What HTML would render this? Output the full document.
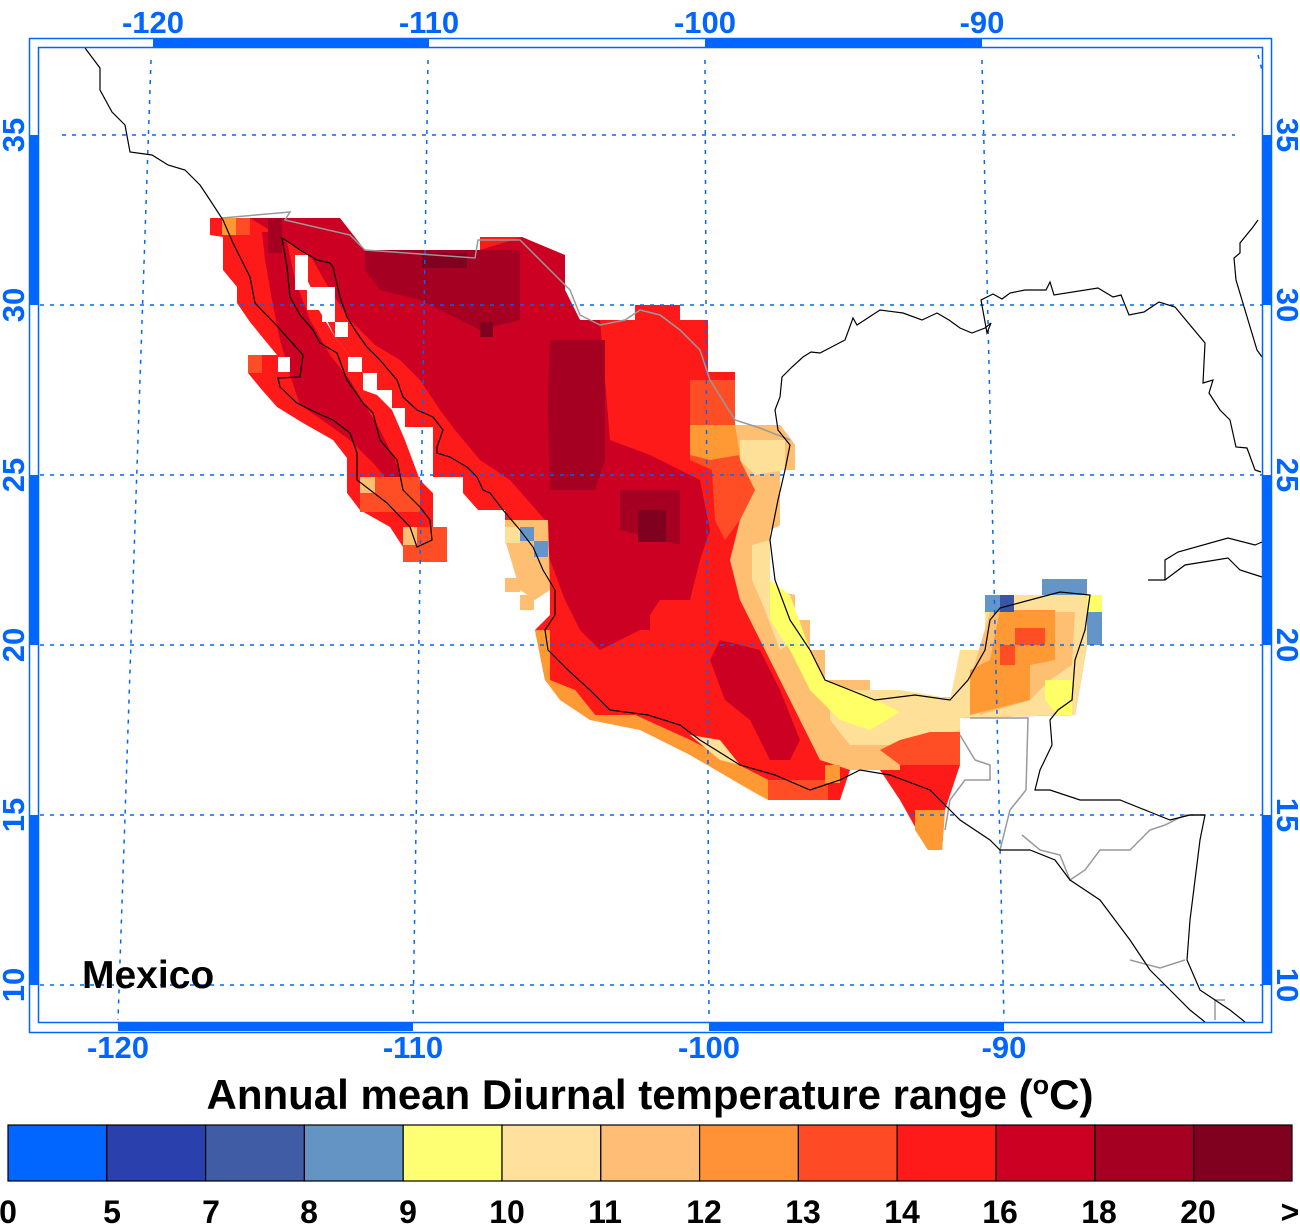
<!DOCTYPE html>
<html><head><meta charset="utf-8"><style>
html,body{margin:0;padding:0;background:#fff;}
svg{display:block;font-family:"Liberation Sans",sans-serif;}
</style></head><body>
<svg width="1300" height="1232" viewBox="0 0 1300 1232" xmlns="http://www.w3.org/2000/svg">
<g stroke="none">
<!-- mainland -->
<polygon fill="#ff1a1a" points="210,218 340,218 340,235 365,250 480,250 480,237 522,237 522,255 565,255 565,290 580,320 635,320 635,305 680,305 680,320 708,320 708,372 735,372 735,425 780,425 795,445 795,470 780,470 780,525 770,530 770,590 795,595 795,620 810,620 810,650 825,650 825,680 870,680 870,697 960,697 970,650 985,650 985,595 1087,595 1087,645 1075,715 960,718 960,765 945,810 942,850 928,850 900,800 880,770 850,770 840,800 768,800 768,780 690,740 635,715 595,715 575,690 545,680 535,630 550,615 550,590 520,555 505,540 505,510 478,510 463,493 433,477 405,427 363,373 335,337 295,255"/>
<!-- baja -->
<polygon fill="#ff1a1a" points="210,218 290,218 295,255 307,290 335,337 363,373 377,390 392,408 405,440 420,480 433,493 433,527 447,527 447,543 432,543 432,562 403,562 403,547 390,527 360,510 347,493 347,458 333,440 303,423 277,407 262,390 248,373 248,355 277,355 263,338 250,322 237,303 237,287 223,270 223,237 210,235"/>
<polygon fill="#cc0022" points="250,218 340,218 365,250 480,250 522,237 565,255 565,290 580,320 600,320 610,440 650,455 700,480 710,530 700,560 690,600 660,600 640,630 600,650 580,630 565,600 550,560 545,520 510,480 480,460 455,430 440,410 420,380 400,360 375,345 350,320 330,290 310,255"/>
<polygon fill="#cc0022" points="262,232 285,232 295,280 310,320 330,355 350,380 365,405 380,430 395,460 405,490 395,490 375,465 350,440 325,422 300,405 290,375 280,340 272,300 265,260"/>
<polygon fill="#cc0022" points="720,640 760,650 780,690 800,740 790,760 770,760 750,720 725,700 710,660"/>
<polygon fill="#cc0022" points="608,600 650,600 650,630 608,630"/>
<polygon fill="#a50021" points="365,250 520,250 520,320 480,330 420,300 380,290 365,270"/>
<polygon fill="#a50021" points="550,340 605,340 605,460 595,490 550,490 548,400"/>
<polygon fill="#a50021" points="620,490 680,490 680,545 620,530"/>
<polygon fill="#a50021" points="268,218 282,218 282,253 268,253"/>
<rect fill="#800020" x="638" y="510" width="28" height="32"/>
<rect fill="#800020" x="480" y="322" width="13" height="15"/>
<rect fill="#800020" x="422" y="253" width="45" height="15"/>
<!-- gulf of california whites -->
<g fill="#fff">
<polygon points="363,373 377,373 377,390 392,390 392,408 405,408 405,427 433,427 433,477 463,477 463,493 433,493 420,480 405,440 392,410 377,395 363,390"/>
<rect x="295" y="255" width="13" height="35"/><rect x="307" y="287" width="28" height="23"/><rect x="322" y="310" width="13" height="12"/><rect x="335" y="322" width="13" height="15"/>
<rect x="278" y="357" width="12" height="15"/><rect x="348" y="357" width="14" height="15"/>
</g>
<rect fill="#ff4d26" x="248" y="355" width="14" height="18"/>
<!-- gulf coast bands -->
<polygon fill="#ff4d26" points="690,380 735,380 735,425 765,470 740,520 725,540 715,520 712,470 690,460"/>
<polygon fill="#ffbf73" points="735,425 780,425 795,445 795,470 780,470 780,525 770,530 770,590 795,595 795,620 810,620 810,650 825,650 825,680 870,680 870,697 960,697 960,740 930,740 900,770 880,770 850,770 820,760 800,720 780,680 760,640 740,600 730,560 740,520 755,490 740,460"/>
<polygon fill="#ff9933" points="690,425 735,425 740,455 710,460 690,455"/>
<polygon fill="#ffe099" points="740,440 785,440 785,470 755,475 740,460"/>
<polygon fill="#ffe099" points="752,545 770,540 770,590 790,600 795,640 780,650 765,610 752,580"/>
<polygon fill="#ffe099" points="830,690 900,690 960,700 960,730 900,745 850,745 830,720"/>
<polygon fill="#ffff66" points="770,580 790,595 810,650 825,680 870,697 900,712 870,730 840,720 810,690 790,650 770,620"/>
<!-- yucatan -->
<polygon fill="#ffe099" points="960,650 985,650 985,595 1087,595 1087,645 1075,715 960,718 950,700"/>
<polygon fill="#ffbf73" points="990,612 1075,612 1072,665 1050,680 1030,700 980,715 970,680"/>
<polygon fill="#ff9933" points="1000,610 1055,610 1055,660 1030,665 1030,700 970,715 970,670 990,660"/>
<rect fill="#ff4d26" x="1015" y="628" width="30" height="17"/><rect fill="#ff4d26" x="1000" y="645" width="15" height="20"/>
<polygon fill="#ffff66" points="1045,680 1072,680 1072,715 1058,715 1045,700"/>
<rect fill="#ffff66" x="1087" y="595" width="15" height="17"/>
<rect fill="#6495c8" x="1042" y="579" width="45" height="16"/>
<rect fill="#6495c8" x="985" y="595" width="15" height="17"/>
<rect fill="#3a55a8" x="1000" y="595" width="14" height="17"/>
<rect fill="#6495c8" x="1087" y="612" width="15" height="33"/>
<!-- chiapas -->
<polygon fill="#ff4d26" points="930,732 960,732 960,765 900,765 880,750 900,740"/>
<polygon fill="#ff1a1a" points="900,765 945,765 945,810 930,810 915,795 900,785"/>
<polygon fill="#ff9933" points="915,810 945,810 942,850 928,850 915,830"/>
<!-- pacific coast -->
<polygon fill="#ff9933" points="535,630 550,630 550,680 575,690 595,715 635,715 690,740 768,780 768,800 750,790 690,755 640,730 590,720 560,700 545,680"/>
<polygon fill="#ffe099" points="690,735 720,740 740,765 720,760"/>
<polygon fill="#ffbf73" points="505,520 548,520 550,590 535,600 520,590 505,540"/>
<rect fill="#ffe099" x="505" y="527" width="15" height="16"/>
<rect fill="#6495c8" x="520" y="527" width="14" height="14"/><rect fill="#6495c8" x="534" y="541" width="14" height="16"/>
<rect fill="#ffbf73" x="505" y="578" width="15" height="14"/><rect fill="#ffbf73" x="520" y="595" width="14" height="15"/>
<rect fill="#ff4d26" x="768" y="780" width="60" height="20"/>
<rect fill="#ff9933" x="825" y="765" width="15" height="18"/>
<rect fill="#ff4d26" x="360" y="477" width="60" height="35"/>
<rect fill="#ffbf73" x="360" y="477" width="15" height="16"/>
<rect fill="#ff4d26" x="403" y="527" width="44" height="35"/>
<rect fill="#ffbf73" x="403" y="527" width="14" height="18"/>
<rect fill="#ff9933" x="222" y="218" width="14" height="17"/>
<rect fill="#ff4d26" x="236" y="218" width="14" height="17"/>
</g>
<!-- grid -->
<g stroke="#0066ff" stroke-width="1.5" stroke-dasharray="4,6" fill="none">
<line x1="62" y1="135" x2="1235" y2="135"/>
<line x1="40" y1="305" x2="1262" y2="305"/>
<line x1="40" y1="475" x2="1262" y2="475"/>
<line x1="40" y1="645" x2="1262" y2="645"/>
<line x1="40" y1="815" x2="1262" y2="815"/>
<line x1="40" y1="985" x2="1262" y2="985"/>
<line x1="151" y1="60" x2="118" y2="1020"/>
<line x1="428" y1="60" x2="413" y2="1020"/>
<line x1="705" y1="60" x2="709" y2="1020"/>
<line x1="982" y1="60" x2="1004" y2="1020"/>
<line x1="1258" y1="55" x2="1262" y2="70"/>
</g>
<!-- borders -->
<g fill="none" stroke="#999" stroke-width="1.5">
<polyline points="222,218 290,212 285,220 350,235 365,250 475,258 478,240 520,240 550,270 570,290 580,315 600,325 625,320 640,310 660,315 680,330 700,350 710,380 735,420 760,428 790,440"/>
<polyline points="970,718 1028,718 1026,790"/>
<polyline points="960,735 975,760 990,765 990,780 965,780 950,800 945,830"/>
<polyline points="1026,790 1010,810 1005,830 1000,850"/>
<polyline points="1022,835 1040,850 1060,855 1070,880 1085,870 1100,850 1130,850 1150,830 1165,825 1185,815 1205,815"/>
<polyline points="1130,960 1160,968 1185,960"/>
<polyline points="1215,1020 1215,1000 1225,1000"/>
</g>
<!-- coasts -->
<g fill="none" stroke="#000" stroke-width="1.2">
<polyline points="85,48 100,68 100,90 112,112 125,125 130,152 152,155 168,165 185,170 200,185 210,200 223,220 233,243 250,277 255,303 278,327 303,355 300,377 278,378 280,387 297,403 317,413 333,420 350,433 357,453 357,480 387,503 410,527 417,547 432,540 430,520 420,507 403,490 397,460 380,440 373,413 363,403 347,380 337,353 320,343 313,330 300,315 290,297 287,267 282,238 290,243 300,250 317,260 330,263 333,267 340,297 347,317 357,333 367,347 380,360 397,380 403,397 417,410 433,417 443,430 437,447 437,453 450,457 467,467 477,477 483,490 490,493 503,510 520,530 533,547 543,570 555,590 555,615 545,630 548,650 570,672 590,690 610,710 648,715 680,725 700,740 740,765 775,775 810,790 840,780 860,770 890,775 930,790 960,820 990,840 1000,850 1030,850 1055,860 1070,880 1100,900 1130,940 1150,970 1170,990 1190,1010 1205,1022"/>
<polyline points="1262,357 1257,350 1236,280 1234,258 1240,253 1240,243 1253,227 1258,220"/>
<polyline points="1261,472 1255,470 1247,448 1236,447 1230,420 1220,410 1209,393 1213,380 1203,383 1205,343 1175,307 1159,302 1144,312 1129,315 1121,295 1113,297 1098,288 1054,295 1050,282 1046,290 1025,290 1010,293 1002,299 993,294 981,300 987,333 991,323 985,328 972,333 960,328 949,320 937,313 922,320 903,313 880,310 857,325 853,318 845,340 820,353 811,352 803,357 792,367 782,377 780,397 775,410 778,430 790,445 785,470 778,500 770,540 775,580 790,620 810,650 825,680 850,690 875,700 915,695 950,700 968,680 985,650 990,620 1000,608 1030,600 1060,592 1090,595 1085,630 1075,660 1072,700 1058,710 1050,720 1052,745 1040,770 1035,790 1050,790 1080,800 1120,800 1150,812 1170,820 1190,815 1205,815 1200,840 1195,880 1190,920 1187,960 1200,990 1230,1010 1245,1022"/>
<polyline points="1148,580 1165,580 1165,560 1178,552 1228,538 1255,545 1262,542"/>
<polyline points="1165,580 1185,565 1228,558 1240,570 1262,577"/>
</g>
<!-- frame -->
<g fill="#0066ff" stroke="none">
<rect x="153" y="39" width="276" height="9"/>
<rect x="705" y="39" width="277" height="9"/>
<rect x="118" y="1022" width="295" height="9"/>
<rect x="709" y="1022" width="295" height="9"/>
<rect x="30" y="135" width="8" height="170"/>
<rect x="30" y="475" width="8" height="170"/>
<rect x="30" y="815" width="8" height="170"/>
<rect x="1262" y="135" width="9" height="170"/>
<rect x="1262" y="475" width="9" height="170"/>
<rect x="1262" y="815" width="9" height="170"/>
</g>
<rect x="29.5" y="38.5" width="1242" height="994" fill="none" stroke="#0066ff" stroke-width="1.5"/>
<rect x="38.5" y="47.5" width="1224" height="975" fill="none" stroke="#0066ff" stroke-width="1.5"/>
<g fill="#0066ff" font-weight="bold" font-size="31" text-anchor="middle">
<text x="153" y="33">-120</text><text x="429" y="33">-110</text><text x="705" y="33">-100</text><text x="982" y="33">-90</text>
<text x="118" y="1058">-120</text><text x="413" y="1058">-110</text><text x="709" y="1058">-100</text><text x="1004" y="1058">-90</text>
<text transform="translate(24,135) rotate(-90)">35</text>
<text transform="translate(24,305) rotate(-90)">30</text>
<text transform="translate(24,475) rotate(-90)">25</text>
<text transform="translate(24,645) rotate(-90)">20</text>
<text transform="translate(24,815) rotate(-90)">15</text>
<text transform="translate(24,985) rotate(-90)">10</text>
<text transform="translate(1277,135) rotate(90)">35</text>
<text transform="translate(1277,305) rotate(90)">30</text>
<text transform="translate(1277,475) rotate(90)">25</text>
<text transform="translate(1277,645) rotate(90)">20</text>
<text transform="translate(1277,815) rotate(90)">15</text>
<text transform="translate(1277,985) rotate(90)">10</text>
</g>
<text x="82" y="988" font-size="39" font-weight="bold" fill="#000">Mexico</text>
<text x="650" y="1109" font-size="42" font-weight="bold" fill="#000" text-anchor="middle">Annual mean Diurnal temperature range (<tspan font-size="27" dy="-15">o</tspan><tspan dy="15">C)</tspan></text>
<g stroke="#000" stroke-width="1.2">
<rect x="8.0" y="1125" width="98.8" height="56" fill="#0066ff"/>
<rect x="106.8" y="1125" width="98.8" height="56" fill="#2a40ad"/>
<rect x="205.6" y="1125" width="98.8" height="56" fill="#3f5ca5"/>
<rect x="304.4" y="1125" width="98.8" height="56" fill="#6494c4"/>
<rect x="403.2" y="1125" width="98.8" height="56" fill="#ffff73"/>
<rect x="502.0" y="1125" width="98.8" height="56" fill="#ffe09c"/>
<rect x="600.8" y="1125" width="98.8" height="56" fill="#ffbd75"/>
<rect x="699.6" y="1125" width="98.8" height="56" fill="#ff9136"/>
<rect x="798.4" y="1125" width="98.8" height="56" fill="#ff4a26"/>
<rect x="897.2" y="1125" width="98.8" height="56" fill="#ff1a1a"/>
<rect x="996.0" y="1125" width="98.8" height="56" fill="#cc0022"/>
<rect x="1094.8" y="1125" width="98.8" height="56" fill="#a50021"/>
<rect x="1193.6" y="1125" width="98.4" height="56" fill="#800020"/>
</g>
<g font-size="32" font-weight="bold" fill="#000" text-anchor="middle">
<text x="8" y="1223">0</text><text x="112" y="1223">5</text><text x="211" y="1223">7</text><text x="309" y="1223">8</text><text x="408" y="1223">9</text><text x="507" y="1223">10</text><text x="605" y="1223">11</text><text x="704" y="1223">12</text><text x="803" y="1223">13</text><text x="902" y="1223">14</text><text x="1000" y="1223">16</text><text x="1099" y="1223">18</text><text x="1198" y="1223">20</text><text x="1290" y="1223">&gt;</text>
</g>
</svg>
</body></html>
